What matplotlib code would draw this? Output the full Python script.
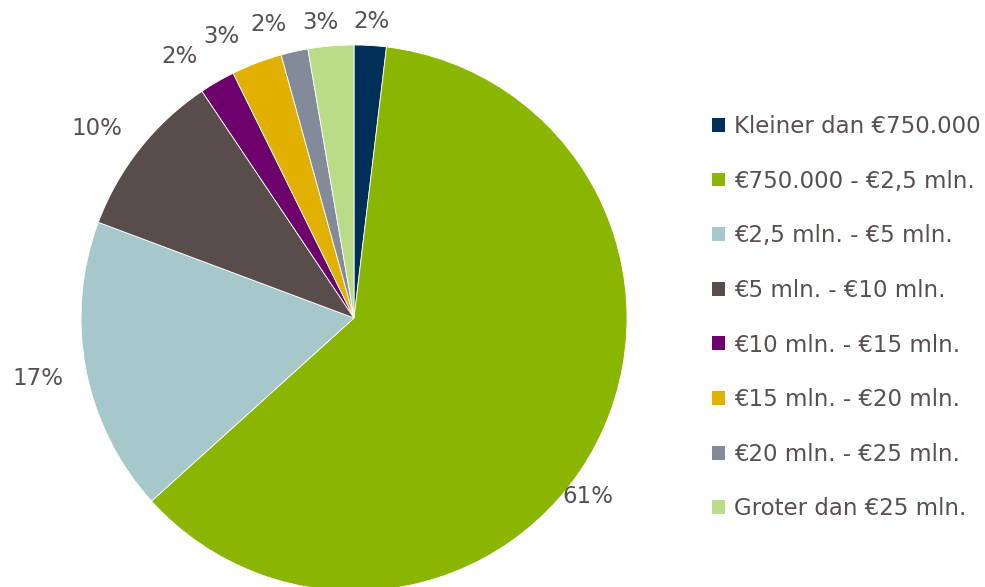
import numpy as np
import matplotlib.pyplot as plt
from matplotlib.patches import Patch

# share of projects per size class (percent)
categories = ['Kleiner dan €750.000', '€750.000 - €2,5 mln.', '€2,5 mln. - €5 mln.',
              '€5 mln. - €10 mln.', '€10 mln. - €15 mln.', '€15 mln. - €20 mln.',
              '€20 mln. - €25 mln.', 'Groter dan €25 mln.']
shares = [1.9, 61.4, 17.4, 9.9, 2.1, 3.0, 1.6, 2.7]
pct_labels = ['2%', '61%', '17%', '10%', '2%', '3%', '2%', '3%']
colors = ['#003057', '#8ab500', '#a6c8ca', '#584d4b', '#6e006b', '#e2b100', '#838a99', '#badb88']

# label placement: radius factor and clockwise shift (deg) from wedge middle
label_r = [1.087, 1.077, 1.18, 1.17, 1.15, 1.14, 1.12, 1.09]
label_shift = [0, 10, 0, -2, -3.6, -4.4, -3.7, -1.7]

txt = '#5a4f4f'
fs = 16.5

fig = plt.figure(figsize=(9.85, 5.87), dpi=100)
R = 273.0
a = 1.3
W, H = 985.0, 587.0
cx, cy = 354.0, H - 318.0
side = 2 * a * R
ax = fig.add_axes([(cx - side / 2) / W, (cy - side / 2) / H, side / W, side / H])

wedges, _ = ax.pie(shares, colors=colors, startangle=90, counterclock=False,
                   radius=1.0, wedgeprops=dict(linewidth=0.6, edgecolor='white'))
ax.set_xlim(-a, a)
ax.set_ylim(-a, a)
ax.set_aspect('equal')
ax.axis('off')

for w, lab, r, s in zip(wedges, pct_labels, label_r, label_shift):
    mid = np.deg2rad((w.theta1 + w.theta2) / 2 - s)
    ax.text(r * np.cos(mid), r * np.sin(mid), lab, ha='center', va='center',
            fontsize=fs, color=txt)

handles = [Patch(facecolor=c, edgecolor='none') for c in colors]
leg = fig.legend(handles, categories, loc='upper left', bbox_to_anchor=(712 / W, 1 - 115 / H),
                 frameon=False, fontsize=fs, labelcolor=txt, handlelength=0.55, handleheight=0.55,
                 handletextpad=0.4, labelspacing=1.38, borderpad=0, borderaxespad=0)

fig.savefig('out.png', dpi=100)
